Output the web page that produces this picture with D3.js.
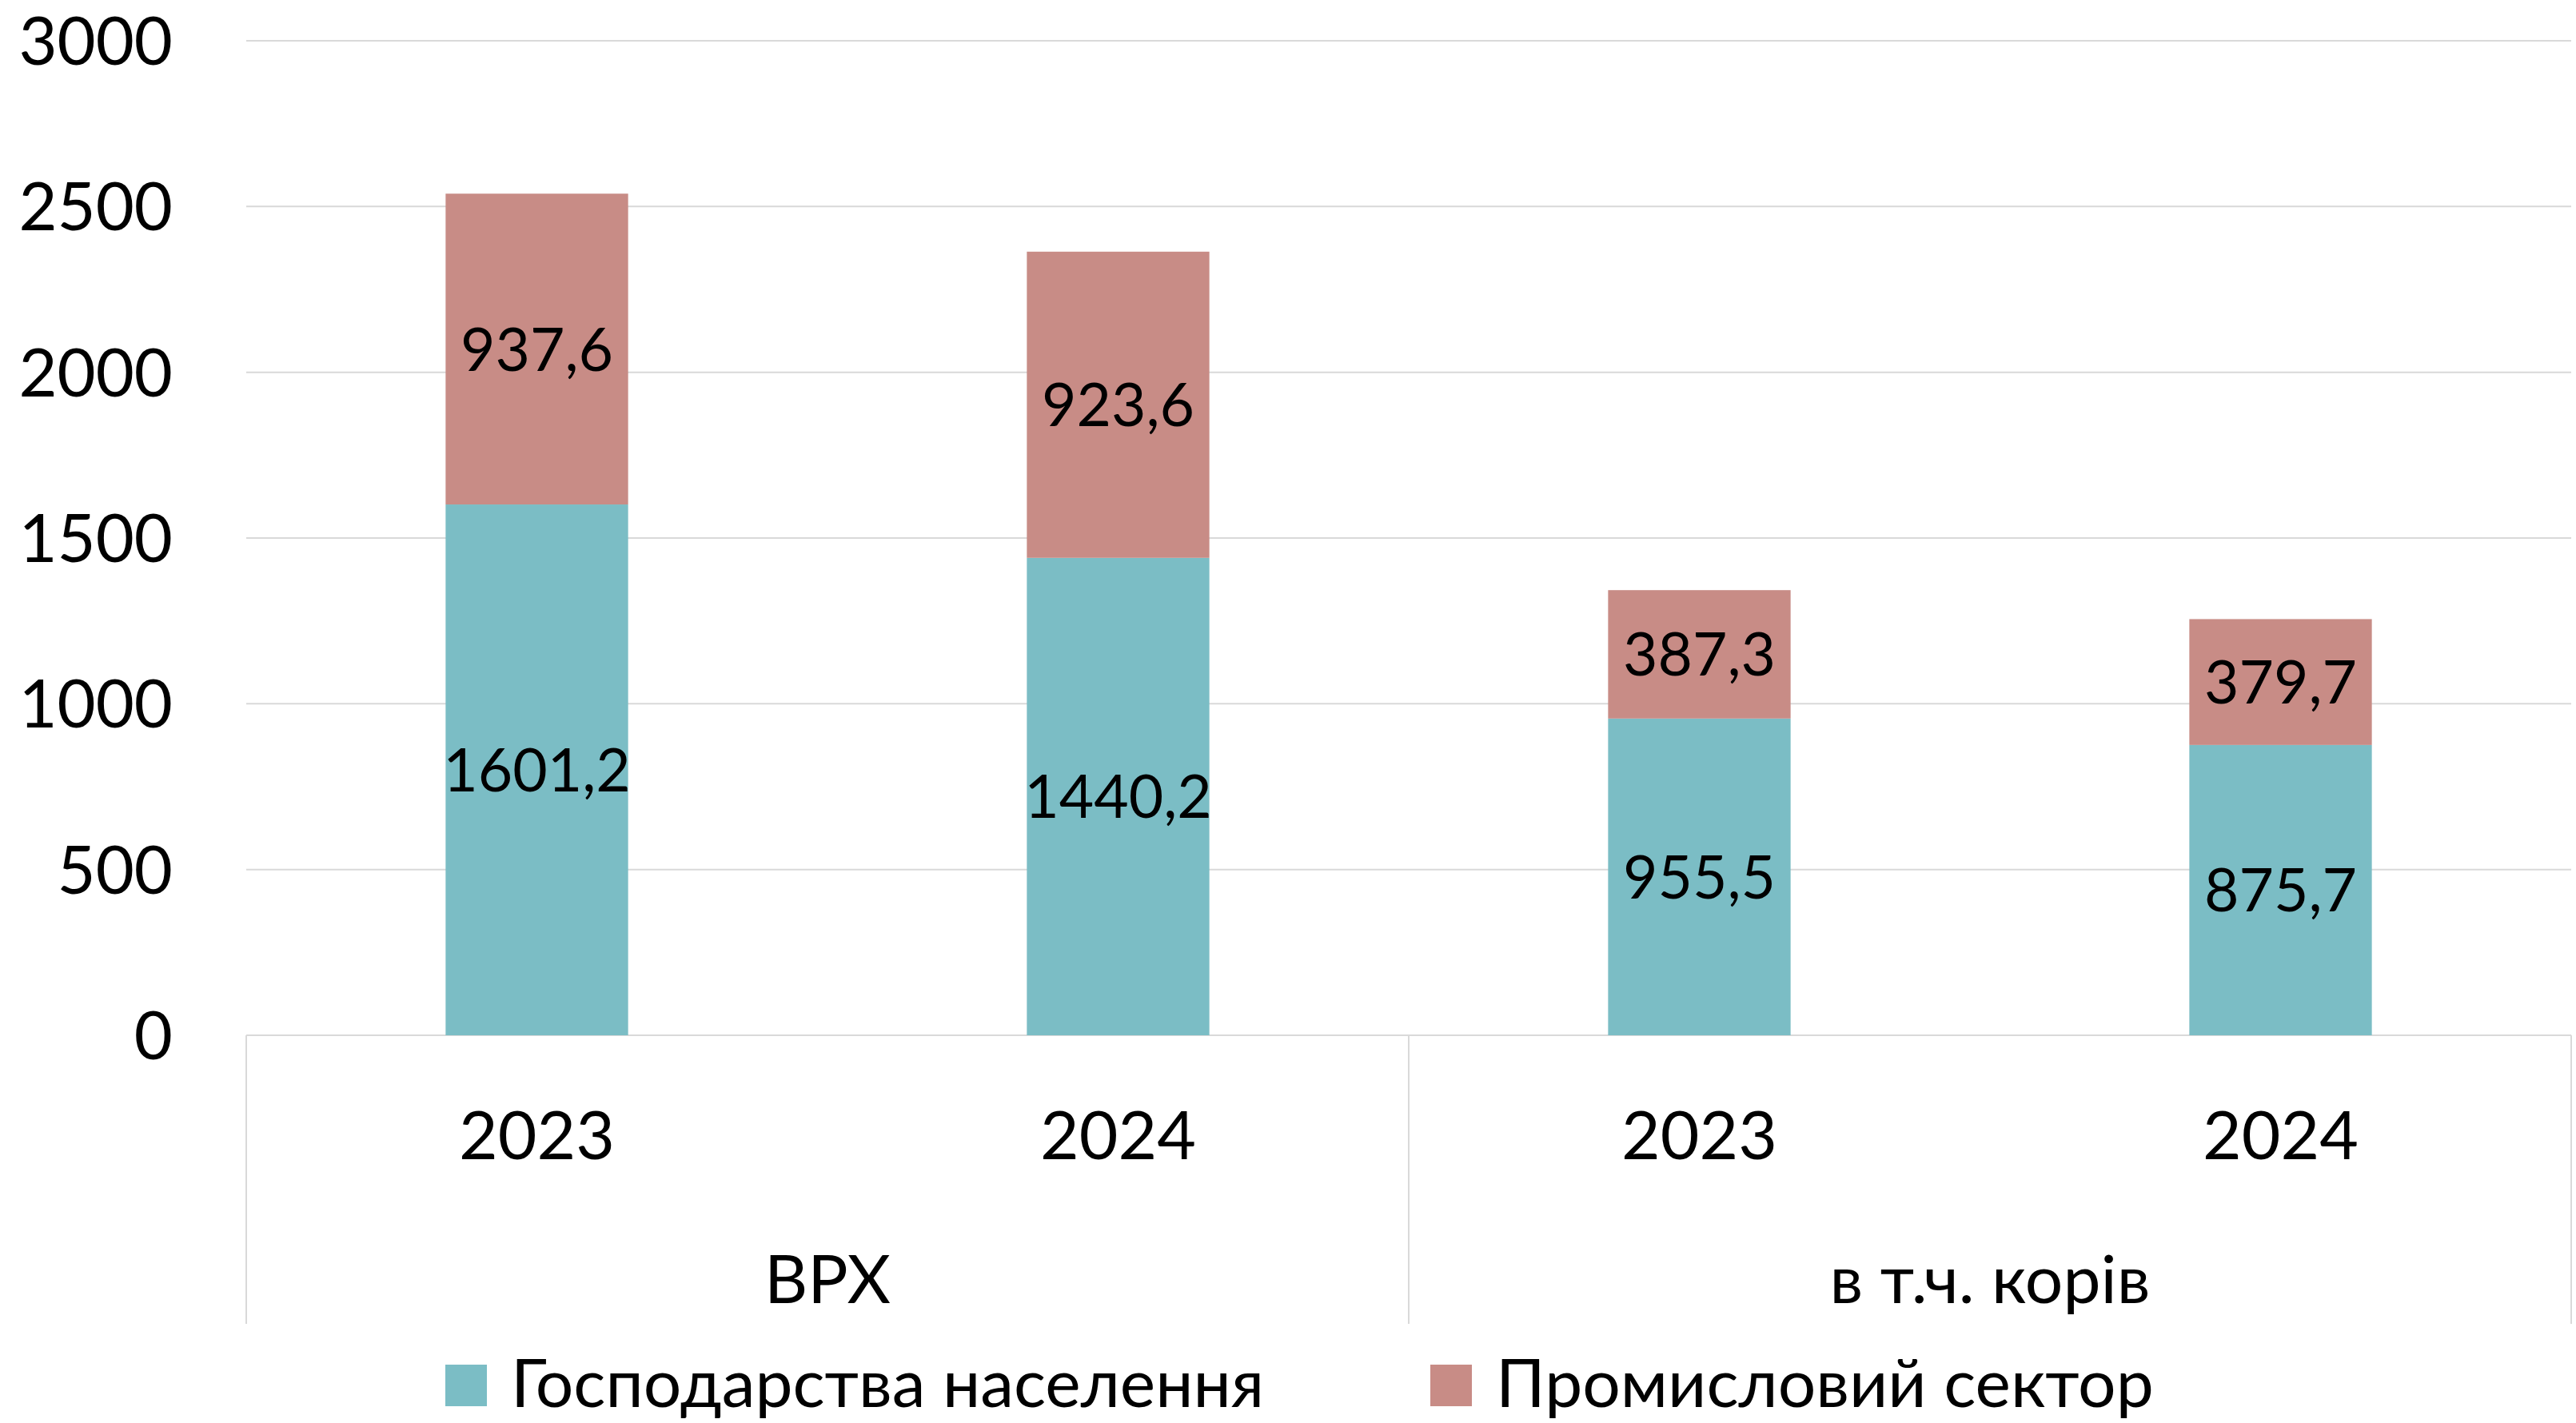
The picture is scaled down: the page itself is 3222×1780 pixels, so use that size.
<!DOCTYPE html>
<html>
<head>
<meta charset="utf-8">
<script src="https://cdn.jsdelivr.net/npm/d3@7"></script>
<style>
  body { margin: 0; background: #fff; }
  svg text { font-family: Lato, "Noto Sans", sans-serif; fill: #000; }
</style>
</head>
<body>
<svg id="chart"></svg>
<script>
const groups = ["ВРХ", "в т.ч. корів"];
const years = ["2023", "2024", "2023", "2024"];
const households = [1601.2, 1440.2, 955.5, 875.7];
const industrial = [937.6, 923.6, 387.3, 379.7];
const yTicks = [0, 500, 1000, 1500, 2000, 2500, 3000];
const seriesNames = ["Господарства населення", "Промисловий сектор"];
const colors = ["#7BBDC5", "#C88C86"];

const W = 3222, H = 1780;
const plot = { left: 308, right: 3216, top: 51, bottom: 1295 };

const svg = d3.select("#chart").attr("width", W).attr("height", H);

const x = d3.scaleBand()
    .domain(d3.range(years.length))
    .range([plot.left, plot.right])
    .paddingInner(0.686)
    .paddingOuter(0.343);

const y = d3.scaleLinear()
    .domain([0, 3000])
    .range([plot.bottom, plot.top]);

const fmt = v => d3.format(".1f")(v).replace(".", ",");

// gridlines
svg.append("g").selectAll("line")
    .data(yTicks)
    .join("line")
    .attr("x1", plot.left).attr("x2", plot.right)
    .attr("y1", d => y(d)).attr("y2", d => y(d))
    .attr("stroke", "#D9D9D9")
    .attr("stroke-width", 2);

// y tick labels
svg.append("g").selectAll("text")
    .data(yTicks)
    .join("text")
    .attr("x", 216)
    .attr("y", d => y(d))
    .attr("dy", "0.36em")
    .attr("text-anchor", "end")
    .style("font-size", "83px")
    .text(d => d);

// stacked bars
const rows = years.map((yr, i) => ({ i, h: households[i], p: industrial[i] }));

const bars = svg.append("g");
bars.selectAll(".hh")
    .data(rows)
    .join("rect")
    .attr("class", "hh")
    .attr("x", d => x(d.i))
    .attr("width", x.bandwidth())
    .attr("y", d => y(d.h))
    .attr("height", d => y(0) - y(d.h))
    .attr("fill", colors[0]);

bars.selectAll(".ind")
    .data(rows)
    .join("rect")
    .attr("class", "ind")
    .attr("x", d => x(d.i))
    .attr("width", x.bandwidth())
    .attr("y", d => y(d.h + d.p))
    .attr("height", d => y(d.h) - y(d.h + d.p))
    .attr("fill", colors[1]);

// data labels
const labels = svg.append("g")
    .attr("text-anchor", "middle")
    .style("font-size", "75px");

labels.selectAll(".lh")
    .data(rows)
    .join("text")
    .attr("class", "lh")
    .attr("x", d => x(d.i) + x.bandwidth() / 2)
    .attr("y", d => y(d.h / 2))
    .attr("dy", "0.36em")
    .text(d => fmt(d.h));

labels.selectAll(".lp")
    .data(rows)
    .join("text")
    .attr("class", "lp")
    .attr("x", d => x(d.i) + x.bandwidth() / 2)
    .attr("y", d => y(d.h + d.p / 2))
    .attr("dy", "0.36em")
    .text(d => fmt(d.p));

// category axis with group separators
const step = x.step();
const divX = [plot.left, plot.left + 2 * step, plot.right];
svg.append("g").selectAll("line")
    .data(divX)
    .join("line")
    .attr("x1", d => d).attr("x2", d => d)
    .attr("y1", plot.bottom).attr("y2", 1656)
    .attr("stroke", "#D9D9D9")
    .attr("stroke-width", 2);

svg.append("g").selectAll("text")
    .data(rows)
    .join("text")
    .attr("x", d => x(d.i) + x.bandwidth() / 2)
    .attr("y", 1450)
    .attr("text-anchor", "middle")
    .style("font-size", "84px")
    .text(d => years[d.i]);

svg.append("g").selectAll("text")
    .data(groups)
    .join("text")
    .attr("x", (d, g) => (divX[g] + divX[g + 1]) / 2)
    .attr("y", 1630)
    .attr("text-anchor", "middle")
    .style("font-size", "84px")
    .text(d => d);

// legend
const legendX = [557, 1789];
const items = svg.append("g").selectAll("g")
    .data(seriesNames)
    .join("g")
    .attr("transform", (d, i) => `translate(${legendX[i]},0)`);
items.append("rect")
    .attr("width", 52).attr("height", 52)
    .attr("y", 1707)
    .attr("fill", (d, i) => colors[i]);
items.append("text")
    .attr("x", 82)
    .attr("y", 1760)
    .style("font-size", "84px")
    .text(d => d);
</script>
</body>
</html>
